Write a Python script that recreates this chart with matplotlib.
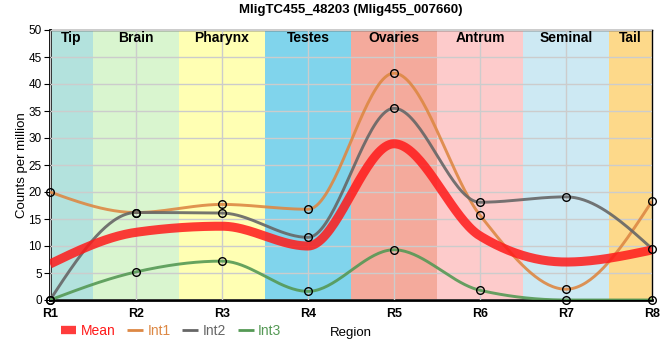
import matplotlib
matplotlib.use("Agg")
import matplotlib.pyplot as plt
from matplotlib.lines import Line2D
import numpy as np

plt.rcParams['font.family'] = ['Liberation Sans', 'DejaVu Sans']

regions = ["R1", "R2", "R3", "R4", "R5", "R6", "R7", "R8"]
int1 = [20.0, 16.2, 17.7, 16.8, 42.0, 15.7, 2.0, 18.3]
int2 = [0.0, 16.2, 16.1, 11.6, 35.5, 18.1, 19.1, 9.5]
int3 = [0.0, 5.2, 7.2, 1.6, 9.3, 1.8, 0.0, 0.0]
mean = list(np.mean([int1, int2, int3], axis=0))

tissues = ["Tip", "Brain", "Pharynx", "Testes", "Ovaries", "Antrum", "Seminal", "Tail"]
tissue_colors = ["#b3e2dd", "#d9f5cf", "#ffffb3", "#80d4ec",
                 "#f4aa9c", "#fdcbcb", "#cde9f3", "#fdd98a"]


def monotone(y, n=40):
    # d3 style monotone cubic, x spacing = 1
    y = np.asarray(y, float)
    s = np.diff(y)
    m = np.zeros(len(y))
    for i in range(1, len(y) - 1):
        p = (s[i - 1] + s[i]) / 2
        m[i] = (np.sign(s[i - 1]) + np.sign(s[i])) * min(abs(s[i - 1]), abs(s[i]), 0.5 * abs(p))
    m[0] = (3 * s[0] - m[1]) / 2
    m[-1] = (3 * s[-1] - m[-2]) / 2
    xs, ys = [], []
    for i in range(len(y) - 1):
        t = np.linspace(0, 1, n)
        h00 = 2 * t**3 - 3 * t**2 + 1
        h10 = t**3 - 2 * t**2 + t
        h01 = -2 * t**3 + 3 * t**2
        h11 = t**3 - t**2
        xs.append(i + t)
        ys.append(h00 * y[i] + h10 * m[i] + h01 * y[i + 1] + h11 * m[i + 1])
    return np.concatenate(xs), np.concatenate(ys)


fig = plt.figure(figsize=(6.6, 3.6), dpi=100)
ax = fig.add_axes([50 / 660, 60 / 360, 602 / 660, 270 / 360])

x = np.arange(len(regions))
for i, (name, col) in enumerate(zip(tissues, tissue_colors)):
    lo = max(i - 0.5, 0)
    hi = min(i + 0.5, len(regions) - 1)
    ax.axvspan(lo, hi, color=col, lw=0, zorder=0)
    ax.text((lo + hi) / 2, 48.6, name, ha='center', va='center',
            fontsize=10, fontweight='bold', zorder=5)

ax.grid(True, color='#cccccc', lw=1, zorder=1)
ax.set_axisbelow(False)
for l in ax.get_xgridlines() + ax.get_ygridlines():
    l.set_zorder(1)

series = [(int1, "#dd8844", "Int1"), (int2, "#666666", "Int2"), (int3, "#559955", "Int3")]
for vals, col, lab in series:
    sx, sy = monotone(vals)
    ax.plot(sx, sy, color=col, lw=2.1, alpha=0.9, zorder=3, solid_capstyle='butt')
    ax.plot(x, vals, 'o', ms=5.5, mfc='none', mec='black', mew=1, zorder=4, clip_on=False)

mx, my = monotone(mean)
ax.plot(mx, my, color='#ff1a1a', lw=6.5, alpha=0.85, zorder=3.5, solid_capstyle='butt')

ax.set_xlim(0, len(regions) - 1)
ax.set_ylim(0, 50)
ax.set_xticks(x)
ax.set_xticklabels(regions, fontweight='bold', fontsize=9)
ax.set_yticks(np.arange(0, 51, 5))
ax.tick_params(axis='y', labelsize=8.5, length=4, pad=2)
ax.tick_params(axis='x', length=0, pad=6)
for side in ['left', 'bottom']:
    ax.spines[side].set_linewidth(2)
for side in ['top', 'right']:
    ax.spines[side].set_linewidth(1)

ax.set_title("MligTC455_48203 (Mlig455_007660)", fontsize=9.5, fontweight='bold', pad=12)
ax.set_ylabel("Counts per million", fontsize=9.5, labelpad=0)
ax.set_xlabel("Region", fontsize=9.5, labelpad=5)

handles = [Line2D([], [], color='#ff1a1a', lw=6, alpha=0.85, solid_capstyle='butt'),
           Line2D([], [], color='#dd8844', lw=2, solid_capstyle='butt'),
           Line2D([], [], color='#666666', lw=2, solid_capstyle='butt'),
           Line2D([], [], color='#559955', lw=2, solid_capstyle='butt')]
leg = fig.legend(handles, ["Mean", "Int1", "Int2", "Int3"], loc='center left',
                 bbox_to_anchor=(48 / 660, 1 - 331 / 360), ncol=4, frameon=False,
                 fontsize=10, handlelength=1.15, handletextpad=0.3, columnspacing=0.85,
                 labelcolor='linecolor')

fig.savefig("out.png", dpi=100)
